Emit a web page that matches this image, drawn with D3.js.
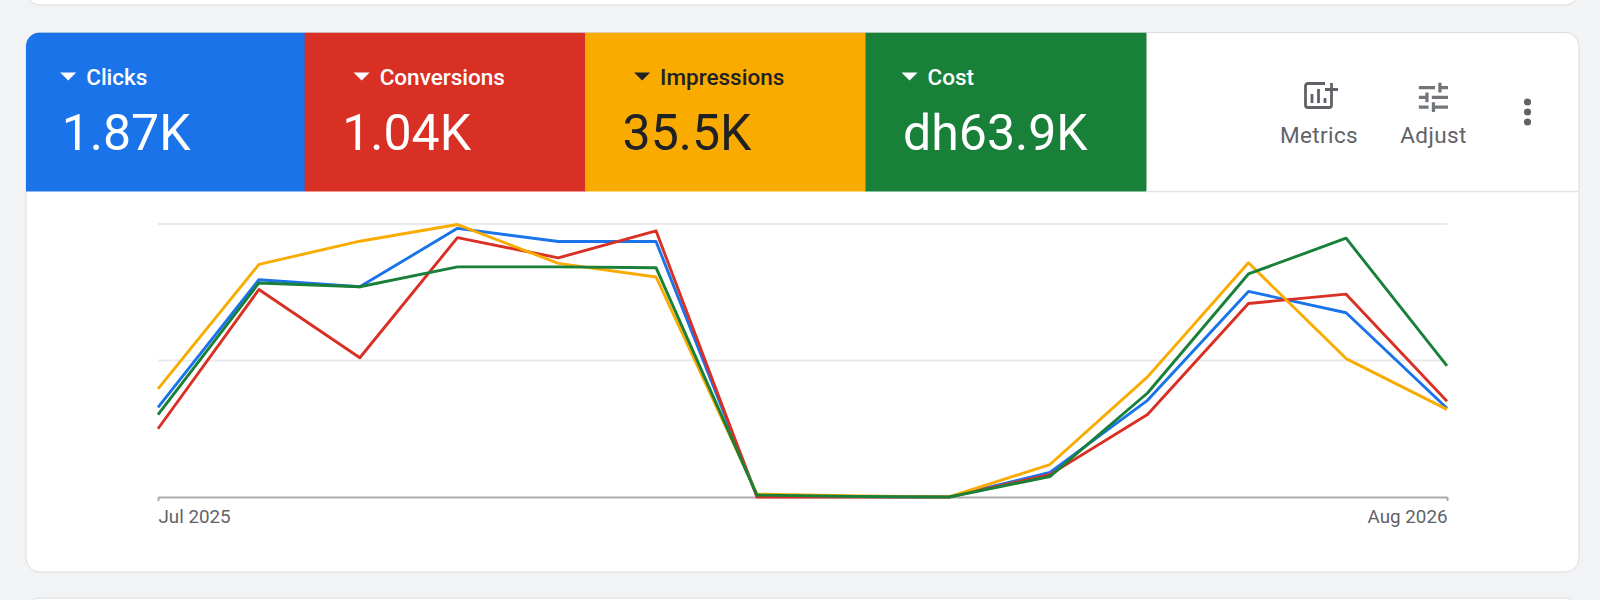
<!DOCTYPE html>
<html>
<head>
<meta charset="utf-8">
<script src="https://cdn.jsdelivr.net/npm/d3@7"></script>
<style>
  html, body { margin: 0; padding: 0; background: #f1f3f4; overflow: hidden; }
  svg { display: block; font-family: Roboto, sans-serif; }
</style>
</head>
<body>
<script>
// data (share of the chart height, 0-100)
var months = ["2025-07","2025-08","2025-09","2025-10","2025-11","2025-12","2026-01",
              "2026-02","2026-03","2026-04","2026-05","2026-06","2026-07","2026-08"];
var clicks      = [32.8, 79.6, 77, 98.4, 93.6, 93.6, 0.4, 0.2, 0, 9, 35.4, 75.3, 67.5, 32.5];
var conversions = [25, 76, 51, 95, 87.6, 97.5, 0, 0, 0, 8.2, 30.2, 70.9, 74.3, 35.1];
var impressions = [39.6, 85.2, 93.7, 99.8, 85.6, 80.6, 1.1, 0.4, 0, 11.9, 44, 85.8, 50.7, 32.1];
var cost        = [30.2, 78.4, 77, 84.3, 84.3, 84, 0.7, 0.2, 0, 7.5, 38.1, 81.7, 94.8, 48];

var metricNames  = ["Clicks", "Conversions", "Impressions", "Cost"];
var metricTotals = ["1.87K", "1.04K", "35.5K", "dh63.9K"];
var metricColors = ["#1a73e8", "#d93025", "#f9ab00", "#188038"];
var metricInk    = ["#ffffff", "#ffffff", "#202124", "#ffffff"];
var yTicks = [0, 50, 100];
var xTicks = ["2025-07", "2026-08"];

var w = 1600;
var h = 600;

// card geometry
var card_x = 26, card_y = 32.5, card_w = 1553, card_h = 539.5, card_r = 14;
var head_h = 159;
var tiles_l = 24.2, tiles_r = 1146;

// plot geometry
var plot_l = 158, plot_r = 1447, plot_t = 224, plot_b = 497;

// caption of each tile is not on the same indent as the total under it
var caption_indent = [36, 49, 49, 36];

var parseMonth = d3.utcParse("%Y-%m");
var formatMonth = d3.utcFormat("%b %Y");

var svg = d3.select("body").append("svg").attr("width", w).attr("height", h);

// neighbouring cards, only their edges are visible
var border = "#dadce0";
svg.append("rect").attr("x", card_x).attr("y", -40).attr("width", card_w).attr("height", 45)
    .attr("rx", card_r).attr("fill", "#fff").attr("stroke", border);
svg.append("rect").attr("x", card_x).attr("y", 598).attr("width", card_w).attr("height", 45)
    .attr("rx", card_r).attr("fill", "#fff").attr("stroke", border);

svg.append("rect").attr("x", card_x).attr("y", card_y).attr("width", card_w).attr("height", card_h)
    .attr("rx", card_r).attr("fill", "#fff").attr("stroke", border);

svg.append("clipPath").attr("id", "card-clip").append("rect")
    .attr("x", card_x).attr("y", card_y).attr("width", card_w).attr("height", card_h).attr("rx", card_r);

var tileScale = d3.scaleBand().domain(metricNames).range([tiles_l, tiles_r]);

var tiles = svg.append("g").attr("clip-path", "url(#card-clip)")
    .selectAll("g").data(metricNames).enter().append("g")
    .attr("transform", function(d){ return "translate(" + tileScale(d) + "," + card_y + ")"; });

tiles.append("rect")
    .attr("width", tileScale.bandwidth() + 0.5)
    .attr("height", head_h)
    .attr("fill", function(d,i){ return metricColors[i]; });

tiles.append("path")
    .attr("d", function(d,i){
        var x = caption_indent[i];
        return "M" + x + ",40 h16 l-8,8 z";
    })
    .attr("fill", function(d,i){ return metricInk[i]; });

tiles.append("text")
    .attr("x", function(d,i){ return caption_indent[i] + 26; })
    .attr("y", 52)
    .attr("font-size", 22.5)
    .attr("font-weight", 500)
    .attr("fill", function(d,i){ return metricInk[i]; })
    .text(function(d){ return d; });

tiles.append("text")
    .attr("x", 37.5)
    .attr("y", 117)
    .attr("font-size", 50)
    .attr("fill", function(d,i){ return metricInk[i]; })
    .text(function(d,i){ return metricTotals[i]; });

svg.append("line")
    .attr("x1", tileScale.range()[1]).attr("x2", card_x + card_w)
    .attr("y1", card_y + head_h).attr("y2", card_y + head_h)
    .attr("stroke", "#e0e2e5").attr("stroke-width", 1.5);

// toolbar on the right
var ink = "#5f6368";
var metricsIcon = svg.append("g").attr("transform", "translate(1304,82)")
    .attr("fill", "none").attr("stroke", ink).attr("stroke-width", 2.8);
metricsIcon.append("path").attr("d", "M21,1.5 H4 Q1.5,1.5 1.5,4 V23 Q1.5,25.5 4,25.5 H25 Q27.5,25.5 27.5,23 V13");
metricsIcon.append("path").attr("d", "M8,12 V21 M14.5,7 V21 M21,16 V21 M21,7.5 H34 M27.5,1 V13.5");

svg.append("path")
    .attr("transform", "translate(1414,78) scale(1.62)")
    .attr("fill", ink)
    .attr("fill-opacity", 0.88)
    .attr("d", "M3 17v2h6v-2H3zM3 5v2h10V5H3zm10 16v-2h8v-2h-8v-2h-2v6h2zM7 9v2H3v2h4v2h2V9H7zm14 4v-2H11v2h10zm-6-4h2V7h4V5h-4V3h-2v6z");

svg.selectAll("circle.dot").data([102, 112, 122]).enter().append("circle")
    .attr("class", "dot").attr("cx", 1527.5).attr("cy", function(d){ return d; })
    .attr("r", 3.6).attr("fill", ink);

svg.append("text").attr("x", 1319).attr("y", 142.5).attr("text-anchor", "middle")
    .attr("font-size", 22.5).attr("letter-spacing", 0.4).attr("fill", ink).text("Metrics");
svg.append("text").attr("x", 1433.5).attr("y", 142.5).attr("text-anchor", "middle")
    .attr("font-size", 22.5).attr("letter-spacing", 0.4).attr("fill", ink).text("Adjust");

// chart, x is a time scale because the months are not evenly long
var dates = months.map(parseMonth);
var xScale = d3.scaleUtc().domain(d3.extent(dates)).range([plot_l, plot_r]);
var yScale = d3.scaleLinear().domain([0, 100]).range([plot_b, plot_t]);

svg.append("g").selectAll("line").data(yTicks.filter(function(d){ return d > 0; }))
    .enter().append("line")
    .attr("x1", plot_l).attr("x2", plot_r)
    .attr("y1", function(d){ return yScale(d); })
    .attr("y2", function(d){ return yScale(d); })
    .attr("stroke", "#e8eaed").attr("stroke-width", 1.8);

var xAxis = d3.axisBottom(xScale)
    .tickValues(xTicks.map(parseMonth))
    .tickFormat(formatMonth)
    .tickSize(4).tickPadding(9).tickSizeOuter(0);
var axis = svg.append("g").attr("transform", "translate(0," + plot_b + ")").call(xAxis);
axis.select(".domain").attr("stroke", "#a8abaf").attr("stroke-width", 2);
axis.selectAll(".tick line").attr("stroke", "#a8abaf").attr("stroke-width", 2);
axis.selectAll(".tick text")
    .attr("font-family", "Roboto, sans-serif")
    .attr("font-size", 18.8)
    .attr("fill", "#5f6368")
    .attr("text-anchor", function(d,i){ return i == 0 ? "start" : "end"; });

var line = d3.line()
    .x(function(d,i){ return xScale(dates[i]); })
    .y(function(d){ return yScale(d); });

var series = [clicks, conversions, impressions, cost];
svg.append("g").selectAll("path").data(series).enter().append("path")
    .attr("d", line)
    .attr("fill", "none")
    .attr("stroke", function(d,i){ return metricColors[i]; })
    .attr("stroke-width", 2.9)
    .attr("stroke-linejoin", "round");
</script>
</body>
</html>
